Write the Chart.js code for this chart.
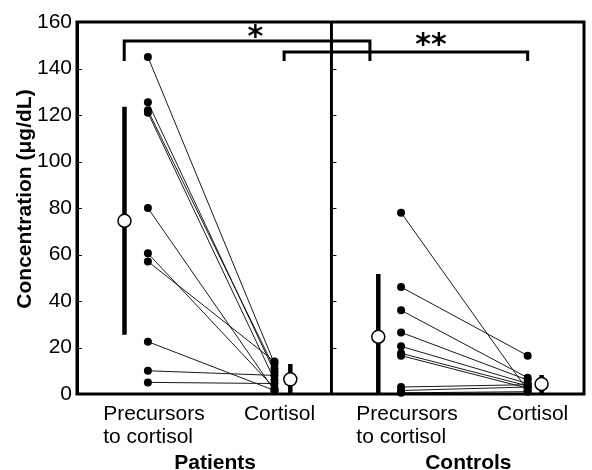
<!DOCTYPE html>
<html>
<head>
<meta charset="utf-8">
<script src="https://cdn.jsdelivr.net/npm/chart.js@4.4.0/dist/chart.umd.min.js"></script>
<style>
html,body{margin:0;padding:0;background:#fff;}
#wrap{width:592px;height:470px;}
</style>
</head>
<body>
<div id="wrap"><canvas id="c" width="592" height="470"></canvas></div>
<script>
// ---------- data ----------
const groups = ['Patients', 'Controls'];
const measures = [['Precursors', 'to cortisol'], ['Cortisol']];
const yTicks = [0, 20, 40, 60, 80, 100, 120, 140, 160];
const yTitle = 'Concentration (\u03bcg/dL)';

// paired individual values (precursor -> cortisol)
const patientsPrecursors = [145, 125.5, 122, 121, 80, 60.5, 57, 22.5, 10, 5];
const patientsCortisol   = [13, 9.5, 11, 6, 1.5, 2.5, 14, 1.5, 8, 4.5];
const controlsPrecursors = [78, 46, 36, 26.5, 20.5, 17.5, 16.5, 3, 1.5, 0.5];
const controlsCortisol   = [1.5, 16.5, 7, 6, 4.5, 3.5, 2.5, 4, 3, 1];

// summary (mean, SD) in order: patients precursors, patients cortisol, controls precursors, controls cortisol
const meanValues = [74.5, 6.3, 24.6, 4.3];
const sdValues   = [49, 6.6, 27, 3.9];

// significance brackets
const sigLabels = ['*', '**'];
const sigLevels = [151.8, 147.1];   // bracket heights (data units)
const sigDrop   = 143.2;            // bottom of bracket legs

// ---------- layout (category positions on the x scale) ----------
const pos = [1, 2, 3, 4];            // P-prec, P-cort, C-prec, C-cort
const sumOffset = [-0.185, 0.125, -0.18, 0.11];
const dividerPos = 2.45;
const bracketX = [[0.813, 2.754], [2.076, 4.0]];
const starPos = [[1.85, 155.7], [3.237, 152.3]];

const FONT = "'Liberation Sans', Arial, Helvetica, sans-serif";

function pairData(a, b, xa, xb) {
  const out = [];
  a.forEach((v, i) => {
    out.push({x: xa, y: v});
    out.push({x: xb, y: b[i]});
    out.push({x: xb, y: null});
  });
  return out;
}

const pairs = pairData(patientsPrecursors, patientsCortisol, pos[0], pos[1])
  .concat(pairData(controlsPrecursors, controlsCortisol, pos[2], pos[3]));

const sdBars = [];
meanValues.forEach((m, i) => {
  const xv = pos[i] + sumOffset[i];
  sdBars.push({x: xv, y: Math.max(0, m - sdValues[i])});
  sdBars.push({x: xv, y: Math.min(160, m + sdValues[i])});
  sdBars.push({x: xv, y: null});
});
const means = meanValues.map((m, i) => ({x: pos[i] + sumOffset[i], y: m}));

const brackets = [];
sigLevels.forEach((lv, i) => {
  brackets.push({x: bracketX[i][0], y: sigDrop});
  brackets.push({x: bracketX[i][0], y: lv});
  brackets.push({x: bracketX[i][1], y: lv});
  brackets.push({x: bracketX[i][1], y: sigDrop});
  brackets.push({x: bracketX[i][1], y: null});
});

const annot = {
  id: 'annot',
  beforeDatasetsDraw(chart) {
    const {ctx, chartArea: a, scales: {x, y}} = chart;
    ctx.save();
    ctx.strokeStyle = '#000';
    const dx = x.getPixelForValue(dividerPos);
    ctx.lineWidth = 3;
    ctx.beginPath(); ctx.moveTo(dx, a.top); ctx.lineTo(dx, a.bottom); ctx.stroke();
    ctx.lineWidth = 1;
    yTicks.forEach(v => {
      if (v === 0 || v === 160) return;
      const py = Math.round(y.getPixelForValue(v)) + 0.5;
      [a.left, dx].forEach(x0 => {
        ctx.beginPath(); ctx.moveTo(x0, py); ctx.lineTo(x0 + 5, py); ctx.stroke();
      });
    });
    ctx.restore();
  },
  afterDraw(chart) {
    const {ctx, chartArea: a, scales: {x, y}} = chart;
    ctx.save();
    ctx.strokeStyle = '#000';
    ctx.lineWidth = 3;
    ctx.strokeRect(a.left, a.top, a.right - a.left, a.bottom - a.top);

    ctx.fillStyle = '#000';
    // y title
    ctx.save();
    ctx.translate(25, 199);
    ctx.rotate(-Math.PI / 2);
    ctx.font = 'bold 21px ' + FONT;
    ctx.textAlign = 'center';
    ctx.textBaseline = 'middle';
    ctx.fillText(yTitle, 0, 0);
    ctx.restore();

    // category labels
    ctx.textBaseline = 'alphabetic';
    groups.forEach((g, gi) => {
      const pPrec = x.getPixelForValue(pos[gi * 2]);
      const pCort = x.getPixelForValue(pos[gi * 2 + 1]);
      ctx.font = '21px ' + FONT;
      ctx.textAlign = 'left';
      const w = ctx.measureText(measures[0][0]).width;
      const left = pPrec + 6 - w / 2;
      ctx.fillText(measures[0][0], left, 420);
      ctx.fillText(measures[0][1], left, 443);
      ctx.textAlign = 'center';
      ctx.fillText(measures[1][0], pCort + 5, 420);
      ctx.font = 'bold 21px ' + FONT;
      ctx.fillText(g, (pPrec + pCort) / 2 + 4, 469);
    });

    // significance stars
    ctx.font = 'bold 30px "DejaVu Sans", sans-serif';
    ctx.textAlign = 'left';
    ctx.textBaseline = 'alphabetic';
    sigLabels.forEach((s, i) => {
      const m = ctx.measureText(s);
      const w = m.actualBoundingBoxRight + m.actualBoundingBoxLeft;
      const h = m.actualBoundingBoxAscent + m.actualBoundingBoxDescent;
      const cx = x.getPixelForValue(starPos[i][0]);
      const cy = y.getPixelForValue(starPos[i][1]);
      ctx.fillText(s, cx - w / 2 + m.actualBoundingBoxLeft, cy - h / 2 + m.actualBoundingBoxAscent);
    });
    ctx.restore();
  }
};

new Chart(document.getElementById('c'), {
  type: 'scatter',
  data: {
    datasets: [
      {
        label: 'Mean', data: means, order: 0, showLine: false, clip: false,
        pointStyle: 'circle', pointRadius: 6.5, pointBackgroundColor: '#fff',
        pointBorderColor: '#000', pointBorderWidth: 1.5
      },
      {
        label: 'SD', data: sdBars, order: 1, showLine: true, clip: false,
        borderColor: '#000', borderWidth: 4.5, borderCapStyle: 'butt',
        pointRadius: 0, spanGaps: false
      },
      {
        label: 'Individuals', data: pairs, order: 2, showLine: true, clip: false,
        borderColor: '#1a1a1a', borderWidth: 1, pointRadius: 4,
        pointBackgroundColor: '#000', pointBorderColor: '#000', pointBorderWidth: 0,
        spanGaps: false
      },
      {
        label: 'Brackets', data: brackets, order: 3, showLine: true, clip: false,
        borderColor: '#000', borderWidth: 3, borderCapStyle: 'butt', borderJoinStyle: 'miter',
        pointRadius: 0, spanGaps: false
      }
    ]
  },
  options: {
    responsive: false,
    animation: false,
    devicePixelRatio: 1,
    events: [],
    layout: {padding: {left: 0, top: 22, right: 2, bottom: 76}},
    plugins: {legend: {display: false}, tooltip: {enabled: false}},
    scales: {
      x: {type: 'linear', min: 0.44, max: 4.445, display: false},
      y: {
        type: 'linear', min: 0, max: 160,
        afterFit(s) { s.width = 77; },
        afterBuildTicks(s) { s.ticks = yTicks.map(v => ({value: v})); },
        grid: {display: false, drawTicks: false},
        border: {display: true, color: '#000', width: 3},
        ticks: {color: '#000', padding: 5, font: {family: FONT, size: 21}}
      }
    }
  },
  plugins: [annot]
});
</script>
</body>
</html>
